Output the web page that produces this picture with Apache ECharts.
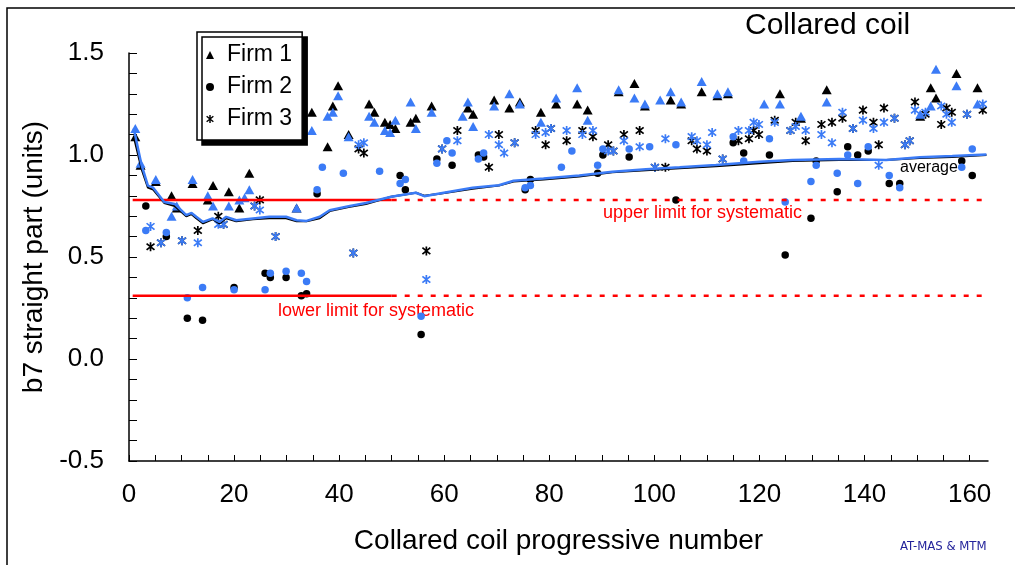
<!DOCTYPE html>
<html>
<head>
<meta charset="utf-8">
<title>Collared coil</title>
<style>
	html, body { margin: 0; padding: 0; background: #fff; }
	#main { width: 1015px; height: 565px; }
</style>
<script src="https://cdn.jsdelivr.net/npm/echarts@6.0.0/dist/echarts.min.js"></script>
</head>
<body>
<div id="main"></div>
<script>
// 刻度
var xTickLabels = [0, 20, 40, 60, 80, 100, 120, 140, 160];
var xTickMarks = [0, 5, 10, 15, 20, 25, 30, 35, 40, 45, 50, 55, 60, 65, 70, 75, 80, 85, 90, 95, 100, 105, 110, 115, 120, 125, 130, 135, 140, 145, 150, 155, 160];
var yTickLabels = [-0.5, 0, 0.5, 1.0, 1.5];
var yTickMarks = [-0.5, -0.4, -0.3, -0.2, -0.1, 0, 0.1, 0.2, 0.3, 0.4, 0.5, 0.6, 0.7, 0.8, 0.9, 1.0, 1.1, 1.2, 1.3, 1.4, 1.5];

// Firm 1 (triangles) - black / blue
var firm1Black = [[1.2,1.09],[2.2,0.95],[5.1,0.87],[8.1,0.80],[9.1,0.74],[12.1,0.86],[15,0.78],[16,0.85],[19,0.82],[21,0.74],[22.9,0.91],[31.9,0.74],[34.8,1.21],[37.8,1.04],[38.8,1.24],[39.8,1.34],[41.8,1.10],[45.7,1.25],[46.7,1.21],[48.7,1.16],[49.7,1.15],[50.7,1.13],[53.6,1.16],[54.6,1.18],[57.6,1.24],[64.5,1.23],[65.5,1.20],[69.5,1.27],[72.4,1.23],[74.4,1.26],[78.4,1.21],[81.3,1.25],[85.3,1.25],[87.3,1.22],[93.2,1.31],[96.2,1.35],[98.2,1.24],[103.1,1.27],[105.1,1.25],[109,1.31],[112,1.29],[114,1.30],[123.9,1.30],[127.9,1.18],[132.8,1.32],[150.6,1.19],[152.6,1.33],[153.6,1.28],[157.5,1.40],[161.5,1.33]];
var firm1Blue = [[1.2,1.13],[2.2,0.96],[5.1,0.88],[8.1,0.70],[9.1,0.75],[12.1,0.88],[15,0.80],[16,0.75],[19,0.75],[21,0.78],[22,0.79],[22.9,0.83],[31.9,0.74],[34.8,1.12],[37.8,1.19],[38.8,1.21],[39.8,1.29],[41.8,1.09],[45.7,1.19],[46.7,1.16],[48.7,1.12],[49.7,1.11],[50.7,1.17],[53.6,1.26],[54.6,1.13],[57.6,1.21],[63.5,1.19],[64.5,1.26],[65.5,1.14],[69.5,1.24],[72.4,1.30],[74.4,1.25],[78.4,1.16],[81.3,1.28],[85.3,1.33],[87.3,1.17],[93.2,1.32],[96.2,1.28],[98.2,1.25],[101.1,1.27],[103.1,1.31],[105.1,1.26],[109,1.36],[112,1.30],[114,1.31],[120.9,1.25],[123.9,1.25],[127.9,1.19],[132.8,1.26],[150.6,1.20],[152.6,1.24],[153.6,1.42],[157.5,1.34],[161.5,1.25]];

// Firm 2 (circles)
var firm2Black = [[3.2,0.75],[7.1,0.60],[11.1,0.20],[14,0.19],[20,0.35],[25.9,0.42],[26.9,0.40],[29.9,0.40],[32.8,0.31],[33.8,0.32],[35.8,0.81],[51.6,0.90],[52.6,0.83],[55.6,0.12],[58.6,0.98],[61.5,0.95],[66.5,1.00],[67.5,0.99],[75.4,0.83],[76.4,0.88],[89.2,0.91],[90.2,1.00],[95.2,0.99],[104.1,0.78],[115,1.06],[117,1.01],[121.9,1.00],[124.9,0.51],[129.8,0.69],[130.8,0.97],[134.8,0.82],[136.8,1.04],[138.7,1.00],[140.7,1.02],[144.7,0.86],[146.7,0.86],[158.5,0.97],[160.5,0.90]];
var firm2Blue = [[3.2,0.63],[7.1,0.62],[11.1,0.30],[14,0.35],[20,0.34],[25.9,0.34],[26.9,0.42],[29.9,0.43],[32.8,0.42],[33.8,0.38],[35.8,0.83],[36.8,0.94],[40.8,0.91],[47.7,0.92],[51.6,0.86],[52.6,0.88],[55.6,0.21],[58.6,0.96],[60.5,1.07],[61.5,1.01],[66.5,0.98],[67.5,1.01],[75.4,0.84],[76.4,0.85],[82.3,0.94],[84.3,1.02],[89.2,0.95],[90.2,1.03],[95.2,1.03],[99.1,1.04],[104.1,1.05],[115,1.09],[117,0.97],[121.9,1.08],[124.9,0.77],[129.8,0.87],[130.8,0.95],[134.8,0.91],[136.8,1.00],[138.7,0.86],[140.7,1.04],[144.7,0.90],[146.7,0.84],[158.5,0.94],[160.5,1.03]];

// Firm 3 (asterisks)
var firm3Black = [[4.1,0.55],[6.1,0.57],[10.1,0.58],[13.1,0.63],[17,0.70],[18,0.66],[23.9,0.75],[24.9,0.78],[27.9,0.60],[42.7,0.52],[43.7,1.03],[44.7,1.01],[56.6,0.53],[59.6,1.03],[62.5,1.12],[68.5,0.94],[70.4,1.10],[73.4,1.06],[77.4,1.12],[79.3,1.05],[80.3,1.13],[83.3,1.07],[86.3,1.12],[88.3,1.09],[91.2,1.05],[92.2,1.02],[94.2,1.10],[97.2,1.12],[100.1,0.94],[102.1,0.94],[107.1,1.07],[108.1,1.03],[110,1.02],[113,0.98],[116,1.07],[118,1.08],[118.9,1.12],[119.9,1.10],[122.9,1.17],[125.9,1.12],[126.9,1.16],[128.8,1.07],[131.8,1.15],[133.8,1.16],[135.8,1.18],[137.8,1.13],[139.7,1.22],[141.7,1.16],[142.7,1.05],[143.7,1.23],[145.7,1.18],[147.7,1.05],[148.6,1.07],[149.6,1.26],[151.6,1.20],[154.6,1.15],[155.6,1.23],[156.6,1.21],[159.5,1.20],[162.5,1.22]];
var firm3Blue = [[4.1,0.65],[6.1,0.57],[10.1,0.58],[13.1,0.57],[17,0.66],[18,0.66],[23.9,0.75],[24.9,0.73],[27.9,0.60],[42.7,0.52],[43.7,1.05],[44.7,1.06],[56.6,0.39],[59.6,1.03],[62.5,1.07],[68.5,1.10],[70.4,1.05],[71.4,1.01],[73.4,1.06],[77.4,1.10],[79.3,1.11],[80.3,1.13],[83.3,1.12],[86.3,1.10],[88.3,1.12],[91.2,1.02],[92.2,1.02],[94.2,1.07],[97.2,1.04],[100.1,0.94],[102.1,1.08],[107.1,1.09],[108.1,1.07],[110,1.05],[111,1.11],[113,0.98],[116,1.12],[118,1.12],[118.9,1.16],[119.9,1.15],[122.9,1.16],[125.9,1.12],[126.9,1.14],[128.8,1.12],[131.8,1.10],[133.8,1.06],[135.8,1.21],[137.8,1.13],[139.7,1.17],[141.7,1.13],[142.7,0.95],[143.7,1.16],[145.7,1.18],[147.7,1.05],[148.6,1.07],[149.6,1.22],[151.6,1.21],[154.6,1.24],[155.6,1.20],[156.6,1.16],[159.5,1.20],[162.5,1.25]];

// 平均线
var avgBlack = [[0.9,1.09],[2.4,0.93],[3.6,0.84],[4.6,0.83],[6.7,0.765],[8.7,0.75],[10.9,0.70],[11.9,0.71],[12.8,0.69],[14.1,0.665],[15.9,0.685],[17.2,0.665],[18.5,0.69],[20.4,0.675],[23.6,0.685],[26.7,0.69],[29.9,0.69],[31.9,0.675],[33.8,0.675],[36.3,0.69],[38.2,0.725],[41.8,0.745],[45.1,0.76],[49.9,0.795],[54.6,0.815],[56.2,0.80],[59.1,0.81],[65.4,0.835],[70.4,0.85],[73.2,0.87],[78.9,0.88],[85.7,0.895],[92,0.915],[98.4,0.925],[104.8,0.935],[111.7,0.945],[120,0.96],[126.3,0.97],[135.2,0.975],[144.1,0.975],[150.5,0.985],[156.7,0.99],[163.2,1.0]];
var avgBlue = [[0.9,1.13],[2.4,0.95],[3.6,0.85],[4.6,0.84],[6.7,0.77],[8.7,0.76],[10.9,0.705],[11.9,0.716],[12.8,0.697],[14.1,0.672],[15.9,0.689],[17.2,0.672],[18.5,0.697],[20.4,0.68],[23.6,0.689],[26.7,0.697],[29.9,0.697],[31.9,0.68],[33.8,0.677],[36.3,0.697],[38.2,0.729],[41.8,0.749],[45.1,0.765],[49.9,0.795],[54.6,0.815],[56.2,0.798],[59.1,0.811],[65.4,0.839],[70.4,0.852],[73.2,0.874],[78.9,0.885],[85.7,0.90],[92,0.918],[98.4,0.93],[104.8,0.94],[111.7,0.951],[120,0.967],[126.3,0.975],[135.2,0.98],[144.1,0.975],[150.5,0.989],[156.7,0.995],[163.2,1.003]];

// 系统误差上下限
var upperSolid = [[0.7,0.78],[50,0.78]];
var upperDashed = [[50,0.78],[162.8,0.78]];
var lowerSolid = [[0.7,0.31],[50,0.31]];
var lowerDashed = [[50,0.31],[162.8,0.31]];

var BLUE = '#3b7bf6';
var FONT = '"Liberation Sans", Arial, sans-serif';
// 星号标记
var STAR = 'path://M4.1,0L5.9,0L5.9,10L4.1,10Z M0.22,2.19L1.38,0.81L9.78,7.81L8.62,9.19Z M8.62,0.81L9.78,2.19L1.38,9.19L0.22,7.81Z';

function scatter(name, data, symbol, size, color) {
	return {
		name: name,
		type: 'scatter',
		data: data,
		symbol: symbol,
		symbolSize: size,
		itemStyle: { color: color, opacity: 1 },
		silent: true
	};
}

function line(data, color, width, type) {
	return {
		type: 'line',
		data: data,
		showSymbol: false,
		symbol: 'none',
		lineStyle: { color: color, width: width, type: type },
		silent: true
	};
}

var myChart = echarts.init(document.getElementById('main'));

var option = {
	animation: false,
	textStyle: { fontFamily: FONT, color: '#000' },
	title: {
		text: 'Collared coil',
		left: 745,
		top: 11,
		padding: 0,
		textStyle: { fontSize: 30, fontWeight: 'normal', color: '#000', fontFamily: FONT }
	},
	legend: {
		data: ['Firm 1', 'Firm 2', 'Firm 3'],
		orient: 'vertical',
		left: 197,
		top: 32,
		padding: [10, 10, 8, 9],
		itemGap: 6,
		itemWidth: 8,
		itemHeight: 8,
		textStyle: { fontSize: 23, color: '#000', lineHeight: 26, padding: [0, 0, 0, 8] },
		backgroundColor: '#fff',
		borderColor: '#000',
		borderWidth: 1.5,
		shadowColor: '#000',
		shadowOffsetX: 5,
		shadowOffsetY: 5,
		shadowBlur: 0
	},
	grid: { left: 129, right: 27, top: 53, bottom: 104 },
	xAxis: {
		type: 'value',
		min: 0,
		max: 163.5,
		name: 'Collared coil progressive number',
		nameLocation: 'middle',
		nameGap: 66,
		nameTextStyle: { fontSize: 28, color: '#000' },
		axisLine: { onZero: false, lineStyle: { color: '#000', width: 1.5 } },
		axisTick: { inside: true, length: 6, customValues: xTickMarks, lineStyle: { color: '#000' } },
		axisLabel: { customValues: xTickLabels, margin: 21, fontSize: 26, color: '#000' },
		splitLine: { show: false }
	},
	yAxis: {
		type: 'value',
		min: -0.5,
		max: 1.5,
		name: 'b7 straight part (units)',
		nameLocation: 'middle',
		nameGap: 80,
		nameTextStyle: { fontSize: 28, color: '#000' },
		axisLine: { show: true, lineStyle: { color: '#000', width: 1.5 } },
		axisTick: { show: true, inside: true, length: 8, customValues: yTickMarks, lineStyle: { color: '#000' } },
		axisLabel: {
			customValues: yTickLabels,
			margin: 25,
			fontSize: 26,
			color: '#000',
			formatter: function(v) { return v.toFixed(1); }
		},
		splitLine: { show: false }
	},
	graphic: [
		{ type: 'rect', silent: true, shape: { x: 7, y: 8, width: 1100, height: 700 }, style: { fill: 'none', stroke: '#000', lineWidth: 1.5 } },
		{ type: 'text', silent: true, x: 603, y: 213, style: { text: 'upper limit for systematic', fill: '#ff0000', fontSize: 18, fontFamily: FONT, verticalAlign: 'middle' } },
		{ type: 'text', silent: true, x: 278, y: 311, style: { text: 'lower limit for systematic', fill: '#ff0000', fontSize: 18, fontFamily: FONT, verticalAlign: 'middle' } },
		{ type: 'text', silent: true, x: 900, y: 168, style: { text: 'average', fill: '#000', fontSize: 16, fontFamily: FONT, verticalAlign: 'middle' } },
		{ type: 'text', silent: true, x: 900, y: 547, style: { text: 'AT-MAS & MTM', fill: '#22229a', fontSize: 13, fontFamily: '"Liberation Sans Narrow", "DejaVu Sans Condensed", sans-serif', verticalAlign: 'middle' } }
	],
	series: [
		line(upperSolid, '#ff0000', 2.5, 'solid'),
		line(upperDashed, '#ff0000', 2.5, [5, 8]),
		line(lowerSolid, '#ff0000', 2.5, 'solid'),
		line(lowerDashed, '#ff0000', 2.5, [5, 8]),
		line(avgBlack, '#000', 2, 'solid'),
		line(avgBlue, BLUE, 2.5, 'solid'),
		scatter('Firm 1', firm1Black, 'triangle', [10, 9], '#000'),
		scatter('Firm 2', firm2Black, 'circle', 7.5, '#000'),
		scatter('Firm 3', firm3Black, STAR, 9, '#000'),
		scatter('Firm 1 b', firm1Blue, 'triangle', [10, 9], BLUE),
		scatter('Firm 2 b', firm2Blue, 'circle', 7.5, BLUE),
		scatter('Firm 3 b', firm3Blue, STAR, 9, BLUE)
	]
};

myChart.setOption(option);
</script>
</body>
</html>
